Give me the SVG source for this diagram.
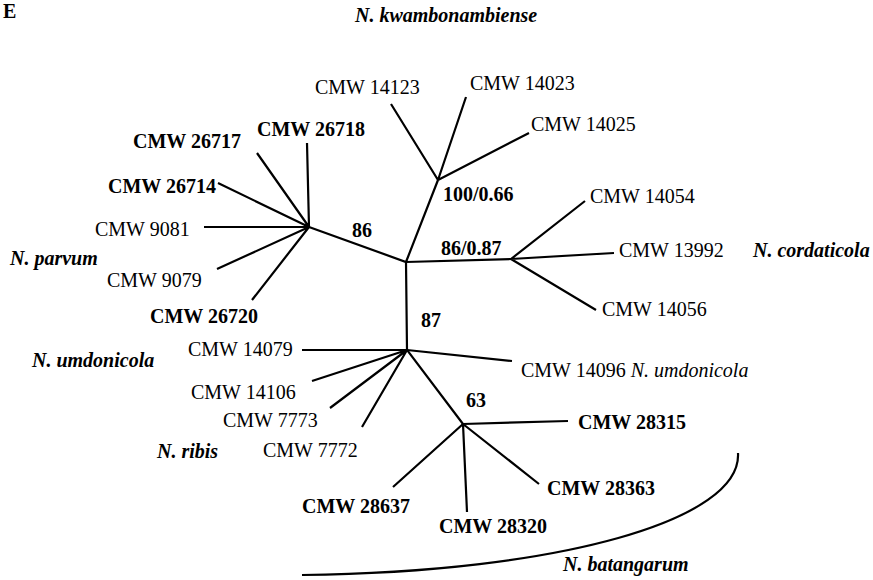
<svg xmlns="http://www.w3.org/2000/svg" width="873" height="580" viewBox="0 0 873 580">
<style>
text{font-family:"Liberation Serif","Times New Roman",serif;font-size:20px;fill:#000}
.b{font-weight:bold}
.i{font-style:italic}
.bi{font-weight:bold;font-style:italic}
.br{fill:none;stroke:#000;stroke-width:2.2;stroke-linecap:butt}
</style>
<rect width="873" height="580" fill="#fff"/>
<text class="b" x="3" y="18" font-size="20">E</text>
<g id="connectors">
<path class="br" d="M309,227 L406,262 L438,180 M406,262 L511,259 M406,262 L407,350 L463,424"/>
<path class="br" d="M309,227 L307,143 M309,227 L257,153 M309,227 L218,183 M309,227 L204,227 M309,227 L217,269 M309,227 L252,300"/>
<path class="br" d="M438,180 L391,104 M438,180 L466,97 M438,180 L529,133"/>
<path class="br" d="M511,259 L585,201 M511,259 L614,253 M511,259 L596,310"/>
<path class="br" d="M407,350 L302,350 M407,350 L312,381 M407,350 L330,408 M407,350 L362,427 M407,350 L512,361"/>
<path class="br" d="M463,424 L568,421 M463,424 L539,484 M463,424 L467,512 M463,424 L393,487"/>
<path class="br" d="M738,453 C742,520 560,572 302,575"/>
</g>
<g id="kwambonambiense">
<text class="bi" x="355" y="22">N. kwambonambiense</text>
<text x="315" y="94">CMW 14123</text>
<text x="470" y="90">CMW 14023</text>
<text x="531" y="131">CMW 14025</text>
<text class="b" x="443" y="201">100/0.66</text>
</g>
<g id="parvum">
<text class="b" x="257" y="136">CMW 26718</text>
<text class="b" x="133" y="148">CMW 26717</text>
<text class="b" x="108" y="193">CMW 26714</text>
<text x="95" y="236">CMW 9081</text>
<text class="bi" x="10" y="265">N. parvum</text>
<text x="107" y="287">CMW 9079</text>
<text class="b" x="150" y="323">CMW 26720</text>
<text class="b" x="352" y="237">86</text>
</g>
<g id="cordaticola">
<text class="b" x="441" y="255">86/0.87</text>
<text x="590" y="203">CMW 14054</text>
<text x="619" y="257">CMW 13992</text>
<text class="bi" x="753" y="257">N. cordaticola</text>
<text x="602" y="316">CMW 14056</text>
</g>
<g id="umdonicola-ribis">
<text class="b" x="421" y="327">87</text>
<text x="188" y="356">CMW 14079</text>
<text class="bi" x="32" y="367">N. umdonicola</text>
<text x="191" y="399">CMW 14106</text>
<text x="223" y="427">CMW 7773</text>
<text x="263" y="457">CMW 7772</text>
<text class="bi" x="157" y="458">N. ribis</text>
<text x="521" y="377">CMW 14096 <tspan class="i">N. umdonicola</tspan></text>
</g>
<g id="batangarum">
<text class="b" x="466" y="407">63</text>
<text class="b" x="578" y="429">CMW 28315</text>
<text class="b" x="547" y="495">CMW 28363</text>
<text class="b" x="439" y="533">CMW 28320</text>
<text class="b" x="302" y="513">CMW 28637</text>
<text class="bi" x="563" y="571">N. batangarum</text>
</g>
</svg>
